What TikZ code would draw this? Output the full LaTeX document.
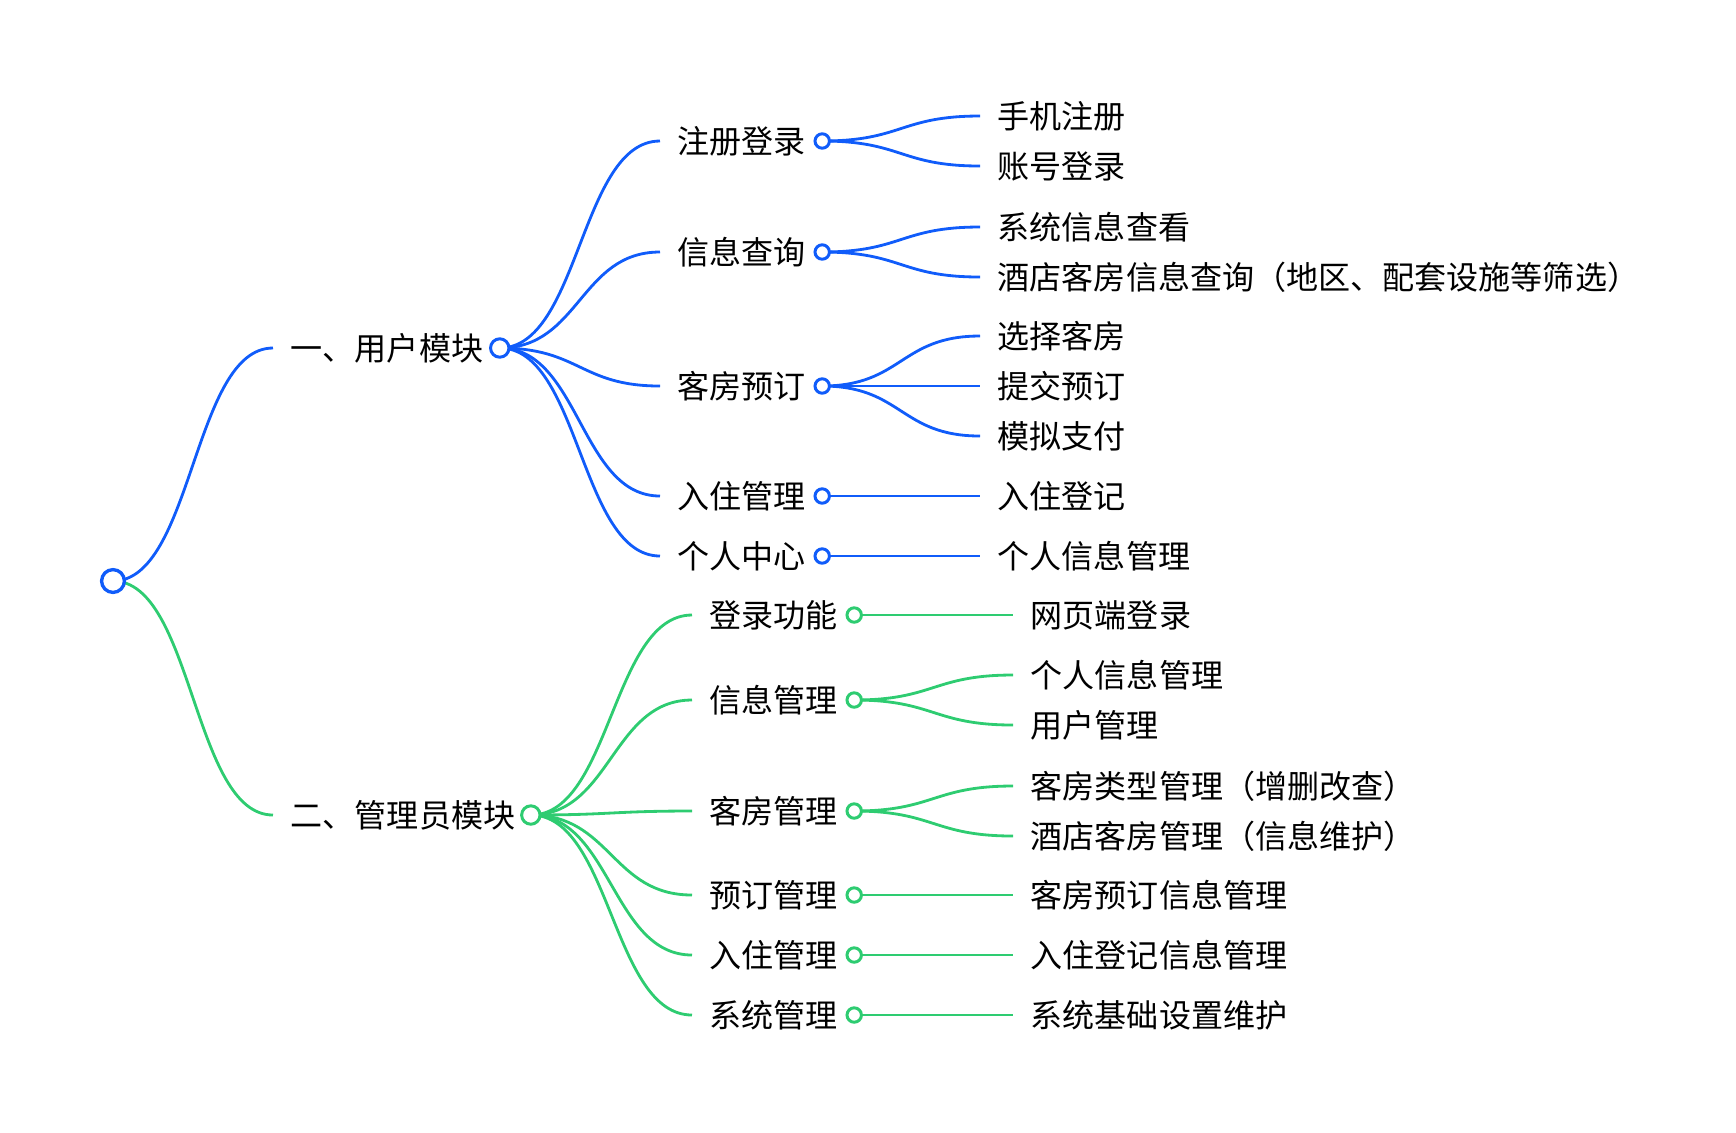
\documentclass[tikz,border=0pt]{standalone}
\usepackage{fontspec}
\setmainfont{Noto Sans CJK SC}
\usetikzlibrary{positioning, backgrounds}

\definecolor{userblue}{RGB}{16,92,250}
\definecolor{admingreen}{RGB}{46,204,113}

\begin{document}
\begin{tikzpicture}[
        x=0.01cm, y=-0.01cm,
        topic/.style={anchor=west, inner xsep=0.17cm, inner ysep=0pt, text height=0.283cm, text depth=0.039cm, font=\fontsize{9.12pt}{10pt}\selectfont},
        hub/.style={circle, draw, fill=white, line width=0.85pt, inner sep=0pt, outer sep=0pt},
        root_hub/.style={hub, minimum size=0.228cm, line width=0.95pt, draw=userblue},
        main_hub/.style={hub, minimum size=0.184cm},
        sub_hub/.style={hub, minimum size=0.144cm},
        link/.style={line width=0.8pt, to path={.. controls +(80,0) and +(-80,0) .. (\tikztotarget)}}
    ]
        \useasboundingbox (0,0) rectangle (1736,1132);

        % Root
        \node (rootdot) [root_hub] at (113,581) {};

        % User module
        \node (user) [topic] at (273,348) {一、用户模块};
        \node (userdot) [main_hub, draw=userblue, right=-0.103cm of user] {};
        \node (reg) [topic] at (660,141) {注册登录};
        \node (query) [topic] at (660,252) {信息查询};
        \node (book) [topic] at (660,386) {客房预订};
        \node (stay) [topic] at (660,496) {入住管理};
        \node (center) [topic] at (660,556) {个人中心};
        \node (regdot) [sub_hub, draw=userblue, right=-0.087cm of reg] {};
        \node (querydot) [sub_hub, draw=userblue, right=-0.087cm of query] {};
        \node (bookdot) [sub_hub, draw=userblue, right=-0.087cm of book] {};
        \node (staydot) [sub_hub, draw=userblue, right=-0.087cm of stay] {};
        \node (centerdot) [sub_hub, draw=userblue, right=-0.087cm of center] {};
        \node (phone) [topic] at (980,116) {手机注册};
        \node (account) [topic] at (980,166) {账号登录};
        \node (sysview) [topic] at (980,227) {系统信息查看};
        \node (hotelquery) [topic] at (980,277) {酒店客房信息查询（地区、配套设施等筛选）};
        \node (pick) [topic] at (980,336) {选择客房};
        \node (submit) [topic] at (980,386) {提交预订};
        \node (pay) [topic] at (980,436) {模拟支付};
        \node (register) [topic] at (980,496) {入住登记};
        \node (profile) [topic] at (980,556) {个人信息管理};

        % Admin module
        \node (admin) [topic] at (273,815) {二、管理员模块};
        \node (admindot) [main_hub, draw=admingreen, right=-0.113cm of admin] {};
        \node (login) [topic] at (692,615) {登录功能};
        \node (info) [topic] at (692,700) {信息管理};
        \node (room) [topic] at (692,811) {客房管理};
        \node (order) [topic] at (692,895) {预订管理};
        \node (checkin) [topic] at (692,955) {入住管理};
        \node (system) [topic] at (692,1015) {系统管理};
        \node (logindot) [sub_hub, draw=admingreen, right=-0.087cm of login] {};
        \node (infodot) [sub_hub, draw=admingreen, right=-0.087cm of info] {};
        \node (roomdot) [sub_hub, draw=admingreen, right=-0.087cm of room] {};
        \node (orderdot) [sub_hub, draw=admingreen, right=-0.087cm of order] {};
        \node (checkindot) [sub_hub, draw=admingreen, right=-0.087cm of checkin] {};
        \node (systemdot) [sub_hub, draw=admingreen, right=-0.087cm of system] {};
        \node (weblogin) [topic] at (1013,615) {网页端登录};
        \node (selfinfo) [topic] at (1013,675) {个人信息管理};
        \node (usermgmt) [topic] at (1013,725) {用户管理};
        \node (roomtype) [topic] at (1013,786) {客房类型管理（增删改查）};
        \node (hotelroom) [topic] at (1013,836) {酒店客房管理（信息维护）};
        \node (orderinfo) [topic] at (1013,895) {客房预订信息管理};
        \node (checkininfo) [topic] at (1013,955) {入住登记信息管理};
        \node (sysset) [topic] at (1013,1015) {系统基础设置维护};

        % Links
        \begin{scope}[on background layer]
            \draw [link, userblue] (rootdot.center) to (user.west);
            \draw [link, admingreen] (rootdot.center) to (admin.west);

            \draw [link, userblue] (userdot.center) to (reg.west);
            \draw [link, userblue] (userdot.center) to (query.west);
            \draw [link, userblue] (userdot.center) to (book.west);
            \draw [link, userblue] (userdot.center) to (stay.west);
            \draw [link, userblue] (userdot.center) to (center.west);
            \draw [link, userblue] (regdot.center) to (phone.west);
            \draw [link, userblue] (regdot.center) to (account.west);
            \draw [link, userblue] (querydot.center) to (sysview.west);
            \draw [link, userblue] (querydot.center) to (hotelquery.west);
            \draw [link, userblue] (bookdot.center) to (pick.west);
            \draw [link, userblue] (bookdot.center) to (submit.west);
            \draw [link, userblue] (bookdot.center) to (pay.west);
            \draw [link, userblue] (staydot.center) to (register.west);
            \draw [link, userblue] (centerdot.center) to (profile.west);

            \draw [link, admingreen] (admindot.center) to (login.west);
            \draw [link, admingreen] (admindot.center) to (info.west);
            \draw [link, admingreen] (admindot.center) to (room.west);
            \draw [link, admingreen] (admindot.center) to (order.west);
            \draw [link, admingreen] (admindot.center) to (checkin.west);
            \draw [link, admingreen] (admindot.center) to (system.west);
            \draw [link, admingreen] (logindot.center) to (weblogin.west);
            \draw [link, admingreen] (infodot.center) to (selfinfo.west);
            \draw [link, admingreen] (infodot.center) to (usermgmt.west);
            \draw [link, admingreen] (roomdot.center) to (roomtype.west);
            \draw [link, admingreen] (roomdot.center) to (hotelroom.west);
            \draw [link, admingreen] (orderdot.center) to (orderinfo.west);
            \draw [link, admingreen] (checkindot.center) to (checkininfo.west);
            \draw [link, admingreen] (systemdot.center) to (sysset.west);
        \end{scope}
    \end{tikzpicture}
\end{document}
